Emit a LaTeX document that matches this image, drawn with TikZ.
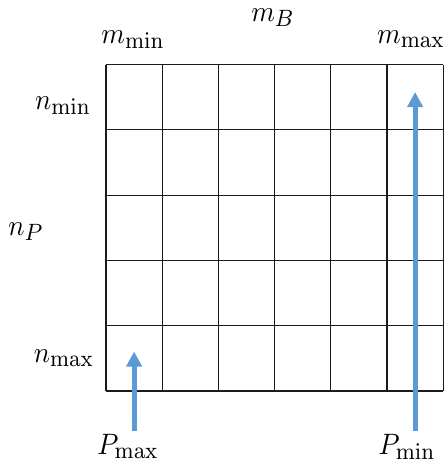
\documentclass[tikz,border=0pt]{standalone}
\usepackage{xcolor}
\usepackage{graphicx}
\usepackage{tikz}
\usetikzlibrary{arrows.meta}
\DeclareMathSizes{10}{10}{7.8}{6}
\definecolor{ArrowBlue}{HTML}{5B9BD5}
\definecolor{GridInk}{HTML}{1A1A1A}
\newcommand{\biglabel}[1]{\scalebox{2.7}[2.95]{$#1$}}
\tikzset{
  axislabel/.style={anchor=base, inner sep=0pt},
  cellline/.style={draw=GridInk, line width=1.1pt},
  sweeparrow/.style={-{Triangle[length=15pt,width=15pt]}, line width=5pt, draw=ArrowBlue}
}

\begin{document}
\begin{tikzpicture}[x=1pt, y=-1pt]
  \useasboundingbox (0,0) rectangle (444,463);

  % grid: 6 columns (m), 5 rows (n)
  \foreach \i in {0,...,6}
    \draw[cellline] (106+56.2*\i,64.5) -- (106+56.2*\i,391);
  \foreach \j in {0,...,5}
    \draw[cellline] (106,64.5+65.3*\j) -- (443.2,64.5+65.3*\j);

  \node[axislabel] (mmin) at (133,43) {\biglabel{m_{\min}}};
  \node[axislabel] (mB) at (273,21) {\biglabel{m_B}};
  \node[axislabel] (mmax) at (411,43) {\biglabel{m_{\max}}};

  \node[axislabel] (nmin) at (63,109) {\biglabel{n_{\min}}};
  \node[axislabel] (nP) at (26,235) {\biglabel{n_P}};
  \node[axislabel] (nmax) at (64,362) {\biglabel{n_{\max}}};

  \node[axislabel] (Pmax) at (128,454) {\biglabel{P_{\max}}};
  \node[axislabel] (Pmin) at (407,454) {\biglabel{P_{\min}}};

  \coordinate (tipmax) at (134.1,351.5);
  \coordinate (tipmin) at (415.1,92);
  \draw[sweeparrow] (134.1,431) -- (tipmax);
  \draw[sweeparrow] (415.1,431) -- (tipmin);
\end{tikzpicture}
\end{document}
